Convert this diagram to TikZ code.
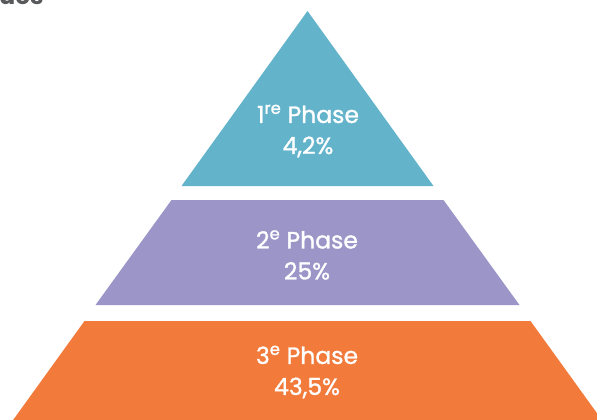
\documentclass[tikz,border=0pt]{standalone}
\usepackage{fontspec}
\setmainfont{Poppins}
\newfontfamily\phasefont[FakeBold = 1.2]{Poppins}
\usepackage{tikz}
\usetikzlibrary{calc}

\definecolor{phaseone}{HTML}{63B3CB}
\definecolor{phasetwo}{HTML}{9B95C8}
\definecolor{phasethree}{HTML}{F27A3B}
\definecolor{titlegray}{HTML}{58595B}

\begin{document}
\begin{tikzpicture}[
    x = 1pt, y = -1pt,
    band/.style = {draw = none},
    phaselabel/.style = {text = white,
      align = center,
      inner sep = 0pt,
      font = \phasefont\fontsize{23.5}{31}\selectfont}
    ]

    \useasboundingbox (0, 0) rectangle (597, 420);

    \node at (-1, 5) [anchor = base west, text = titlegray, inner sep = 0pt,
      font = \fontsize{24}{24}\selectfont\bfseries, name = T] {ues};

    \fill [band, phaseone] (307.5, 11) -- (433.5, 186) -- (181.5, 186) -- cycle;
    \fill [band, phasetwo] (171.5, 200) -- (443.5, 200) -- (519.5, 305) -- (95.5, 305) -- cycle;
    \fill [band, phasethree] (84.5, 321) -- (530.5, 321) -- (605.5, 425) -- (9.5, 425) -- cycle;

    \node at (308, 131) [phaselabel, name = P1] {1\textsuperscript{re} Phase\\4,2\%};
    \node at (307, 255) [phaselabel, name = P2] {2\textsuperscript{e} Phase\\25\%};
    \node at (307, 372) [phaselabel, name = P3] {3\textsuperscript{e} Phase\\43,5\%};

  \end{tikzpicture}
\end{document}
